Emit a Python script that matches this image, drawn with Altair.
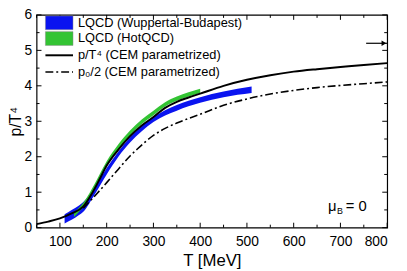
import altair as alt
import pandas as pd

# ---- data ----
# Wuppertal-Budapest band (T, lower, upper)
wb_T = [110, 125, 140, 150, 175, 200, 225, 250, 275, 300, 350, 400, 450, 510]
wb_lo = [0.12, 0.22, 0.35, 0.45, 0.95, 1.50, 2.00, 2.40, 2.72, 2.98, 3.30, 3.52, 3.68, 3.80]
wb_hi = [0.38, 0.50, 0.62, 0.72, 1.15, 1.68, 2.15, 2.55, 2.87, 3.12, 3.46, 3.68, 3.84, 3.98]

# HotQCD band
hq_T = [130, 150, 175, 200, 225, 250, 275, 300, 325, 350, 375, 400]
hq_lo = [0.30, 0.58, 1.10, 1.72, 2.20, 2.60, 2.92, 3.17, 3.42, 3.58, 3.70, 3.80]
hq_hi = [0.42, 0.70, 1.25, 1.87, 2.35, 2.74, 3.05, 3.30, 3.54, 3.70, 3.82, 3.92]

# p/T^4 (CEM parametrized)
p_T = [50, 75, 100, 125, 150, 170, 185, 200, 225, 250, 275, 300, 325, 350, 375, 400,
       450, 500, 550, 600, 650, 700, 750, 800]
p_v = [0.10, 0.17, 0.26, 0.40, 0.60, 1.00, 1.37, 1.75, 2.20, 2.58, 2.88, 3.12, 3.38, 3.55,
       3.67, 3.78, 4.00, 4.17, 4.30, 4.40, 4.47, 4.53, 4.59, 4.64]

# p0/2 (CEM parametrized)
p0_T = [150, 175, 200, 225, 250, 265, 300, 325, 350, 375, 400, 450, 500, 550, 600, 650,
        700, 750, 800]
p0_v = [0.55, 0.90, 1.27, 1.65, 2.02, 2.21, 2.60, 2.80, 2.95, 3.08, 3.20, 3.45, 3.63, 3.77,
        3.87, 3.95, 4.01, 4.06, 4.11]

# Stefan-Boltzmann arrow
arrow_T = [755, 800]
arrow_v = 5.2

x_major = [100, 200, 300, 400, 500, 600, 700, 800]
x_minor = [50, 150, 250, 350, 450, 550, 650, 750]
y_major = [0, 1, 2, 3, 4, 5, 6]
y_minor = [0.5, 1.5, 2.5, 3.5, 4.5, 5.5]

legend_labels = ["LQCD (Wuppertal-Budapest)", "LQCD (HotQCD)",
                 "p/T⁴ (CEM parametrized)", "p₀/2 (CEM parametrized)"]

BLUE = "#0a14f0"
GREEN = "#33c433"
FONT = "Liberation Sans"
W, H = 356, 216

xs = alt.Scale(domain=[50, 800], nice=False, zero=False)
ys = alt.Scale(domain=[0, 6], nice=False)

xaxis = alt.Axis(values=x_major, tickSize=0, labelPadding=7, grid=False, domain=False,
                 labelFontSize=14, titleFontSize=17, titleFontWeight="normal",
                 titlePadding=4, labelFont=FONT, titleFont=FONT, labelColor="black",
                 titleColor="black", labelOverlap=False)
yaxis = alt.Axis(values=y_major, tickSize=0, labelPadding=5, grid=False, domain=False,
                 labelFontSize=14, titleFontSize=16, titleFontWeight="normal",
                 titlePadding=1, labelFont=FONT, titleFont=FONT, labelColor="black",
                 titleColor="black", labelOverlap=False)


def X(field):
    return alt.X(field, scale=xs, axis=xaxis, title="T [MeV]")


def Y(field):
    return alt.Y(field, scale=ys, axis=yaxis, title="p/T⁴")


wb = pd.DataFrame({"T": wb_T, "lo": wb_lo, "hi": wb_hi})
hq = pd.DataFrame({"T": hq_T, "lo": hq_lo, "hi": hq_hi})
pdf = pd.DataFrame({"T": p_T, "v": p_v})
p0df = pd.DataFrame({"T": p0_T, "v": p0_v})

band_wb = alt.Chart(wb).mark_area(color=BLUE, interpolate="monotone", opacity=1).encode(
    x=X("T:Q"), y=Y("lo:Q"), y2="hi:Q")
band_hq = alt.Chart(hq).mark_area(color=GREEN, interpolate="monotone", opacity=1).encode(
    x=X("T:Q"), y=Y("lo:Q"), y2="hi:Q")
line_p = alt.Chart(pdf).mark_line(color="black", strokeWidth=2, interpolate="monotone").encode(
    x=X("T:Q"), y=Y("v:Q"))
line_p0 = alt.Chart(p0df).mark_line(color="black", strokeWidth=1.6, interpolate="monotone",
                                    strokeDash=[8, 3, 2, 3]).encode(
    x=X("T:Q"), y=Y("v:Q"))


# ticks (inward, all four sides)
def xticks(vals, length):
    d = pd.DataFrame({"T": vals})
    bot = alt.Chart(d).mark_rule(color="black", strokeWidth=1).encode(
        x=X("T:Q"), y=alt.value(H), y2=alt.value(H - length))
    top = alt.Chart(d).mark_rule(color="black", strokeWidth=1).encode(
        x=X("T:Q"), y=alt.value(0), y2=alt.value(length))
    return [bot, top]


def yticks(vals, length):
    d = pd.DataFrame({"v": vals})
    left = alt.Chart(d).mark_rule(color="black", strokeWidth=1).encode(
        y=Y("v:Q"), x=alt.value(0), x2=alt.value(length))
    right = alt.Chart(d).mark_rule(color="black", strokeWidth=1).encode(
        y=Y("v:Q"), x=alt.value(W), x2=alt.value(W - length))
    return [left, right]


ticks = xticks(x_major, 5) + xticks(x_minor, 3) + yticks(y_major, 5) + yticks(y_minor, 3)

# arrow
arr = pd.DataFrame({"T": [arrow_T[0]], "T2": [arrow_T[1]], "v": [arrow_v]})
arrow_line = alt.Chart(arr).mark_rule(color="black", strokeWidth=1.2).encode(
    x=X("T:Q"), x2="T2:Q", y=Y("v:Q"))
arrow_head = alt.Chart(pd.DataFrame({"T": [793], "v": [arrow_v]})).mark_point(
    shape="triangle-right", filled=True, color="black", size=30, opacity=1).encode(
    x=X("T:Q"), y=Y("v:Q"))

# legend
leg = alt.Chart(pd.DataFrame({"a": [0]}))
rect_b = leg.mark_rect(color=BLUE, stroke="#888888", strokeWidth=0.5).encode(
    x=alt.value(9), x2=alt.value(37), y=alt.value(1), y2=alt.value(15))
rect_g = leg.mark_rect(color=GREEN, stroke="#888888", strokeWidth=0.5).encode(
    x=alt.value(9), x2=alt.value(37), y=alt.value(17), y2=alt.value(31))
leg_line1 = leg.mark_rule(color="black", strokeWidth=2).encode(
    x=alt.value(9), x2=alt.value(37), y=alt.value(41))
leg_line2 = leg.mark_rule(color="black", strokeWidth=1.6, strokeDash=[8, 3, 2, 3]).encode(
    x=alt.value(9), x2=alt.value(37), y=alt.value(58))
legend_y = [8, 24, 41, 58]
leg_texts = [
    leg.mark_text(align="left", baseline="middle", font=FONT, fontSize=13,
                  color="black", text=lab).encode(x=alt.value(42), y=alt.value(yy))
    for lab, yy in zip(legend_labels, legend_y)
]

mu = leg.mark_text(align="left", baseline="middle", font=FONT, fontSize=15,
                   color="black", text="μ").encode(x=alt.value(296), y=alt.value(194))
mu_b = leg.mark_text(align="left", baseline="middle", font=FONT, fontSize=9,
                     color="black", text="B").encode(x=alt.value(305), y=alt.value(199))
mu_eq = leg.mark_text(align="left", baseline="middle", font=FONT, fontSize=15,
                      color="black", text="= 0").encode(x=alt.value(314), y=alt.value(194))

chart = alt.layer(
    band_wb, band_hq, line_p, line_p0, *ticks, arrow_line, arrow_head,
    rect_b, rect_g, leg_line1, leg_line2, *leg_texts, mu, mu_b, mu_eq
).properties(
    width=W, height=H,
    autosize=alt.AutoSizeParams(type="none"),
    padding={"left": 29, "top": 5, "right": 12, "bottom": 42},
    background="white"
).configure_view(stroke="black", strokeWidth=1.2)

chart.save("out.html", embed_options={"renderer": "svg", "actions": False})
